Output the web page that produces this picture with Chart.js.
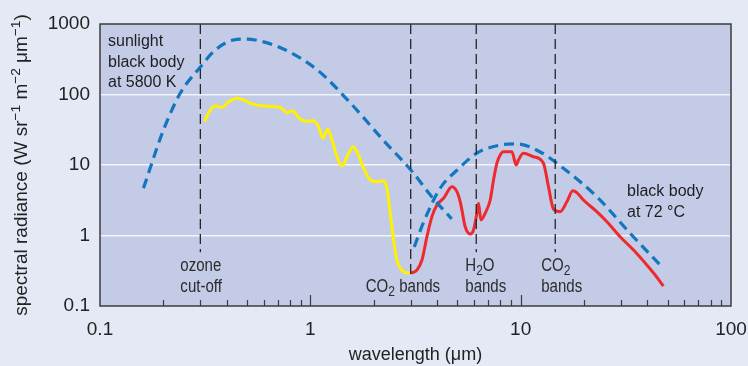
<!DOCTYPE html>
<html>
<head>
<meta charset="utf-8">
<script src="https://cdn.jsdelivr.net/npm/chart.js@4"></script>
<style>
  html, body { margin: 0; padding: 0; background: #e5e9f5; }
  #wrap { width: 748px; height: 366px; }
</style>
</head>
<body>
<div id="wrap"><canvas id="radiance" width="748" height="366"></canvas></div>
<script>
// wavelength in micrometres, spectral radiance in W sr-1 m-2 um-1
var sunBodyWave = [0.161, 0.2, 0.241, 0.3, 0.353, 0.43, 0.49, 0.548, 0.744, 1.08, 1.55, 2.22, 3.09, 3.72, 4.7]
var sunBodyRad  = [4.7, 31, 105, 245, 428, 593, 612, 593, 442, 223, 75.8, 22.6, 7.7, 3.75, 1.72]

var warmBodyWave = [3.12, 3.44, 4.15, 4.99, 6.21, 8.0, 9.62, 12.4, 15.9, 23.1, 33.1, 47.5]
var warmBodyRad  = [0.687, 1.5, 4.72, 8.49, 14.8, 19.2, 19.9, 15.3, 9.06, 3.51, 1.08, 0.346]

var sunlightWave = [0.3135, 0.335, 0.3537, 0.3805, 0.409, 0.4485, 0.482, 0.519, 0.60, 0.72, 0.775, 0.819,
  0.896, 0.964, 1.037, 1.095, 1.149, 1.208, 1.268, 1.339, 1.414, 1.494, 1.596, 1.667, 1.792, 1.928,
  2.075, 2.215, 2.314, 2.399, 2.487, 2.582, 2.775, 2.985]
var sunlightRad  = [41.1, 60.3, 68.7, 65.8, 79.1, 88.3, 83.6, 75, 68.7, 65.8, 55.2, 58.9,
  44.5, 41.7, 42.5, 34.9, 23.9, 32.1, 22.6, 13.1, 9.68, 13.1, 18.2, 15.4, 8.98, 6.12,
  5.79, 5.98, 4.67, 2.07, 0.863, 0.449, 0.307, 0.291]

var earthWave = [3.008, 3.213, 3.394, 3.584, 3.785, 3.999, 4.298, 4.712, 4.976, 5.16, 5.257, 5.449, 5.756,
  5.969, 6.194, 6.304, 6.471, 6.783, 7.165, 7.429, 7.709, 7.993, 8.286, 9.08, 9.52, 9.76, 10.31, 11.5,
  12.83, 13.56, 14.32, 15.4, 16.58, 17.7, 18.49, 19.88, 23.0, 25.7, 29.7, 34.4, 39.8, 43.6, 47.7]
var earthRad  = [0.291, 0.324, 0.449, 0.962, 1.85, 2.71, 3.37, 4.92, 4.18, 3.01, 2.30, 1.33, 1.05,
  1.20, 2.07, 2.86, 1.66, 2.07, 3.19, 6.12, 10.6, 13.9, 15.4, 15.4, 10, 11.8, 14.7, 13.1,
  10.6, 4.92, 2.38, 2.18, 3.01, 4.32, 4.05, 3.19, 2.18, 1.57, 0.962, 0.622, 0.382, 0.275, 0.192]

// dashed marker lines: ozone cut-off, CO2, H2O, CO2
var bandWave   = [0.3, 3, 6.15, 14.6]
var bandBottom = [0.58, 0.26, 0.58, 0.58]

var xTicks = [0.1, 1, 10, 100]
var yTicks = [0.1, 1, 10, 100, 1000]
var yGrid  = [1, 10, 100]

var SANS = "'Liberation Sans', Arial, sans-serif"

function pts(xs, ys) {
  return xs.map(function (x, i) { return { x: x, y: ys[i] } })
}

// draw a line of text with sub/superscript parts, starting at x (baseline middle)
// squeeze < 1 gives the narrow look of the band labels
function richText(ctx, parts, x, y, size, squeeze, small) {
  squeeze = squeeze || 1
  small = small || 0.72
  ctx.save()
  ctx.translate(x, y)
  ctx.scale(squeeze, 1)
  var cx = 0
  parts.forEach(function (p) {
    var s = p.sub || p.sup ? size * small : size
    ctx.font = s + 'px ' + SANS
    var dy = p.sub ? size * 0.3 : (p.sup ? -size * 0.32 : 0)
    ctx.fillText(p.t, cx, dy)
    cx += ctx.measureText(p.t).width
  })
  ctx.restore()
}
function richWidth(ctx, parts, size) {
  var w = 0
  parts.forEach(function (p) {
    ctx.font = (p.sub || p.sup ? size * 0.72 : size) + 'px ' + SANS
    w += ctx.measureText(p.t).width
  })
  return w
}

var decor = {
  id: 'decor',
  beforeDraw: function (chart) {
    var a = chart.chartArea, ctx = chart.ctx
    ctx.save()
    ctx.fillStyle = '#c3cbe7'
    ctx.fillRect(a.left, a.top, a.right - a.left, a.bottom - a.top)
    ctx.restore()
  },
  afterDraw: function (chart) {
    var a = chart.chartArea, ctx = chart.ctx
    var xs = chart.scales.x
    ctx.save()
    // frame
    ctx.strokeStyle = '#3c3c3c'
    ctx.lineWidth = 1.5
    ctx.strokeRect(a.left, a.top, a.right - a.left, a.bottom - a.top)

    // inside tick marks on the wavelength axis
    ctx.lineWidth = 1.2
    ctx.beginPath()
    ;[0.1, 1, 10].forEach(function (d) {
      for (var k = 1; k <= 9; k++) {
        var v = d * k
        if (v <= 0.1 + 1e-9) continue
        var px = Math.round(xs.getPixelForValue(v)) + 0.5
        var len = k === 1 ? 11 : 6
        ctx.moveTo(px, a.bottom)
        ctx.lineTo(px, a.bottom - len)
      }
    })
    ctx.stroke()

    // y axis title with superscripts
    ctx.fillStyle = '#222'
    ctx.textBaseline = 'middle'
    ctx.textAlign = 'left'
    var title = [{ t: 'spectral radiance (W sr' }, { t: '\u22121', sup: true }, { t: ' m' }, { t: '\u22122', sup: true },
      { t: ' \u03bcm' }, { t: '\u22121', sup: true }, { t: ')' }]
    ctx.save()
    ctx.translate(22, (a.top + a.bottom) / 2)
    ctx.rotate(-Math.PI / 2)
    var tw = richWidth(ctx, title, 19)
    richText(ctx, title, -tw / 2, 0, 19)
    ctx.restore()

    // curve labels
    ctx.fillStyle = '#1e1e1e'
    ctx.font = '16px ' + SANS
    ctx.fillText('sunlight', a.left + 8, 42)
    ctx.fillText('black body', a.left + 8, 63)
    ctx.fillText('at 5800 K', a.left + 8, 83)
    ctx.fillText('black body', 627, 192)
    ctx.fillText('at 72 \u00b0C', 627, 213)

    // band labels
    ctx.fillStyle = '#2c2c2c'
    var bx = bandWave.map(function (v) { return xs.getPixelForValue(v) })
    var sq = 0.86, fs = 17.5, sm = 0.8
    richText(ctx, [{ t: 'ozone' }], bx[0] - 20, 266, fs, sq, sm)
    richText(ctx, [{ t: 'cut-off' }], bx[0] - 20, 287, fs, sq, sm)
    richText(ctx, [{ t: 'CO' }, { t: '2', sub: true }, { t: ' bands' }], bx[1] - 45, 287, fs, sq, sm)
    richText(ctx, [{ t: 'H' }, { t: '2', sub: true }, { t: 'O' }], bx[2] - 11, 266, fs, sq, sm)
    richText(ctx, [{ t: 'bands' }], bx[2] - 11, 287, fs, sq, sm)
    richText(ctx, [{ t: 'CO' }, { t: '2', sub: true }], bx[3] - 14, 266, fs, sq, sm)
    richText(ctx, [{ t: 'bands' }], bx[3] - 14, 287, fs, sq, sm)
    ctx.restore()
  }
}

var bandSets = bandWave.map(function (w, i) {
  return {
    data: [{ x: w, y: 1000 }, { x: w, y: bandBottom[i] }],
    borderColor: '#262626', borderWidth: 1.3, borderDash: [10, 5], pointRadius: 0, tension: 0
  }
})

var ctx = document.getElementById('radiance').getContext('2d')
var chart = new Chart(ctx, {
  type: 'line',
  data: {
    datasets: bandSets.concat([
      { label: 'black body 5800 K', data: pts(sunBodyWave, sunBodyRad), borderColor: '#1377bf', borderWidth: 3.2,
        borderDash: [10, 6], pointRadius: 0, cubicInterpolationMode: 'monotone' },
      { label: 'black body 72 C', data: pts(warmBodyWave, warmBodyRad), borderColor: '#1377bf', borderWidth: 3.2,
        borderDash: [10, 6], pointRadius: 0, cubicInterpolationMode: 'monotone' },
      { label: 'sunlight', data: pts(sunlightWave, sunlightRad), borderColor: '#fff200', borderWidth: 3,
        pointRadius: 0, cubicInterpolationMode: 'monotone' },
      { label: 'earth', data: pts(earthWave, earthRad), borderColor: '#ee2a2e', borderWidth: 3,
        pointRadius: 0, cubicInterpolationMode: 'monotone' }
    ])
  },
  options: {
    responsive: false,
    animation: false,
    layout: { padding: { top: 24, right: 17, left: 0, bottom: 0 } },
    plugins: { legend: { display: false }, tooltip: { enabled: false } },
    scales: {
      x: {
        type: 'logarithmic', min: 0.1, max: 100,
        afterBuildTicks: function (s) { s.ticks = xTicks.map(function (v) { return { value: v } }) },
        afterFit: function (s) { s.height = 60; s.paddingLeft = 0; s.paddingRight = 0 },
        grid: { display: false },
        border: { display: false },
        ticks: { autoSkip: false, maxRotation: 0, padding: 4, color: '#222',
          font: { family: SANS, size: 19 }, callback: function (v) { return String(v) } },
        title: { display: true, text: 'wavelength (\u03bcm)', color: '#222', padding: 0,
          font: { family: SANS, size: 18 } }
      },
      y: {
        type: 'logarithmic', min: 0.1, max: 1000,
        afterBuildTicks: function (s) { s.ticks = yTicks.map(function (v) { return { value: v } }) },
        afterFit: function (s) { s.width = 100; s.paddingTop = 0; s.paddingBottom = 0 },
        grid: {
          drawTicks: false, lineWidth: 1.6,
          color: function (c) { return yGrid.indexOf(c.tick.value) >= 0 ? '#f2f4fb' : 'rgba(0,0,0,0)' }
        },
        border: { display: false },
        ticks: { padding: 10, color: '#222', font: { family: SANS, size: 19 },
          callback: function (v) { return String(v) } }
      }
    }
  },
  plugins: [decor]
})
</script>
</body>
</html>
